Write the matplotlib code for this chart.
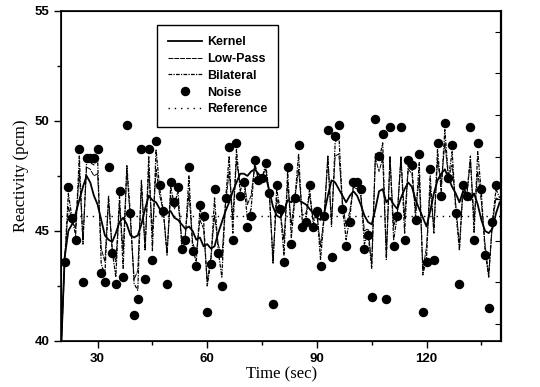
import numpy as np
import matplotlib
matplotlib.use("Agg")
import matplotlib.pyplot as plt
from matplotlib.ticker import MultipleLocator, FixedLocator

# ---------------------------------------------------------------------------
# Data
# ---------------------------------------------------------------------------
time_noise = np.arange(21, 140)          # one sample per second
time_line = np.arange(20, 141)

noise = [43.6, 47.0, 45.6, 44.6, 48.7, 42.7, 48.3, 48.3, 48.3, 48.7,
         43.1, 42.7, 47.9, 44.0, 42.6, 46.8, 42.9, 49.8, 45.8, 41.2,
         41.9, 48.7, 42.8, 48.7, 43.7, 49.1, 47.1, 45.9, 42.6, 47.2,
         46.3, 47.0, 44.2, 44.6, 47.9, 44.1, 43.4, 46.2, 45.7, 41.3,
         43.5, 46.9, 44.0, 42.5, 46.5, 48.8, 44.6, 49.0, 46.6, 47.2,
         45.2, 45.7, 48.2, 47.3, 47.4, 48.1, 46.7, 41.7, 47.1, 46.0,
         43.6, 47.9, 44.4, 46.5, 48.9, 45.2, 45.4, 47.1, 45.2, 45.9,
         43.4, 45.7, 49.6, 43.8, 49.3, 49.8, 46.0, 44.3, 45.4, 47.2,
         47.2, 46.9, 44.2, 44.8, 42.0, 50.1, 48.4, 49.4, 41.9, 49.7,
         44.3, 45.7, 49.7, 44.6, 48.2, 48.0, 45.5, 48.5, 41.3, 43.6,
         47.8, 43.7, 49.0, 46.6, 49.9, 47.4, 48.9, 45.8, 42.6, 47.1,
         46.6, 49.7, 44.6, 49.0, 46.9, 43.9, 41.5, 45.4, 47.1]

kernel = [39.5,
          43.8, 45.0, 45.3, 45.8, 46.4, 47.0, 47.5, 47.2, 46.6, 46.2,
          45.5, 44.8, 44.6, 44.5, 44.9, 45.4, 45.6, 45.3, 44.8, 44.7,
          44.8, 45.3, 46.0, 46.6, 46.4, 46.3, 46.0, 45.9, 45.8, 45.9,
          45.6, 45.5, 45.3, 45.1, 45.2, 45.0, 44.6, 44.7, 44.3, 44.4,
          44.2, 44.3, 44.9, 45.4, 45.9, 46.3, 46.8, 47.2, 47.6, 47.6,
          47.5, 47.7, 47.8, 47.6, 47.4, 47.5, 46.8, 46.1, 45.7, 45.6,
          45.9, 46.4, 46.3, 46.5, 46.4, 46.3, 46.2, 46.0, 45.8, 45.6,
          45.5, 45.8, 46.6, 47.3, 47.2, 46.9, 46.6, 46.3, 46.6, 46.8,
          46.6, 46.2, 45.7, 45.4, 45.3, 46.0, 46.8, 46.9, 46.3, 46.5,
          46.2, 46.0, 46.5, 46.9, 47.2, 47.0, 46.4, 46.0, 45.6, 45.2,
          45.9, 46.7, 47.3, 47.6, 47.8, 47.4, 47.0, 46.7, 46.3, 46.8,
          46.6, 46.4, 46.7, 46.2, 45.5, 45.0, 44.9, 45.1, 45.8, 46.3]

lowpass = [39.5,
           43.7, 46.1, 45.5, 45.1, 47.7, 44.6, 47.9, 47.8, 47.5, 47.6,
           44.2, 43.6, 46.4, 44.2, 43.6, 46.2, 44.1, 47.8, 45.4, 42.8,
           43.2, 47.2, 44.2, 47.8, 44.9, 47.8, 46.6, 45.9, 44.0, 46.6,
           46.0, 46.3, 44.7, 44.8, 46.7, 44.5, 43.9, 45.5, 45.1, 42.7,
           43.8, 45.7, 44.4, 43.8, 46.2, 47.7, 45.6, 48.2, 47.1, 47.4,
           46.2, 46.6, 48.0, 47.4, 47.4, 47.8, 46.7, 43.7, 46.5, 45.8,
           44.6, 47.2, 45.3, 46.5, 47.8, 45.7, 45.8, 46.6, 45.5, 45.8,
           44.3, 45.7, 48.3, 45.4, 48.4, 48.5, 46.3, 45.2, 45.9, 47.0,
           46.9, 46.6, 45.0, 45.1, 43.5, 48.3, 47.7, 48.3, 43.9, 48.3,
           45.2, 45.8, 48.3, 45.6, 47.8, 47.6, 45.9, 47.4, 43.2, 44.3,
           46.9, 45.1, 48.2, 47.1, 49.0, 47.4, 48.0, 46.2, 44.3, 47.0,
           46.6, 48.2, 45.5, 47.7, 46.3, 44.4, 43.0, 45.3, 46.5, 46.4]

bilateral = [39.5,
             43.6, 46.7, 45.6, 44.8, 48.4, 44.4, 48.2, 48.1, 48.0, 48.3,
             43.5, 43.0, 46.6, 44.1, 42.9, 46.6, 43.3, 48.0, 45.7, 42.6,
             42.3, 47.3, 44.1, 48.4, 44.1, 48.7, 46.9, 45.9, 43.9, 47.0,
             46.2, 46.8, 44.4, 44.7, 47.5, 44.2, 43.6, 46.0, 45.5, 42.5,
             43.6, 46.5, 44.1, 42.9, 46.4, 48.4, 44.9, 48.7, 46.8, 47.3,
             45.5, 46.0, 48.1, 47.3, 47.4, 48.0, 46.7, 43.5, 46.9, 45.9,
             43.9, 47.7, 44.7, 46.5, 48.5, 45.4, 45.5, 46.9, 45.3, 45.9,
             43.7, 45.7, 48.4, 45.2, 49.0, 49.4, 46.1, 44.6, 45.6, 47.1,
             47.1, 46.8, 44.4, 44.9, 43.3, 48.5, 48.2, 49.0, 43.7, 48.4,
             44.6, 45.7, 48.4, 44.9, 48.1, 47.9, 45.6, 48.1, 43.0, 43.8,
             47.5, 44.9, 48.7, 46.8, 49.6, 47.4, 48.6, 45.9, 44.1, 47.1,
             46.6, 48.4, 44.9, 48.6, 46.7, 44.1, 42.9, 45.4, 46.9, 46.5]

reference_level = 45.7
x_limits = (20, 140.4)
y_limits = (40, 55)
right_ticks = [40.76, 42.66, 44.56, 46.46, 48.36, 50.26, 52.16, 54.06]

# ---------------------------------------------------------------------------
# Plot
# ---------------------------------------------------------------------------
fig = plt.figure(figsize=(5.4, 3.87), dpi=100, facecolor="white")
ax = fig.add_axes([0.113, 0.119, 0.815, 0.853])

ax.plot(time_line, kernel, color="black", lw=1.3, ls="-", label="Kernel")
ax.plot(time_line, lowpass, color="black", lw=0.7, ls=(0, (5, 1)),
        label="Low-Pass")
ax.plot(time_line, bilateral, color="black", lw=0.9, ls=(0, (3, 1, 1, 1)),
        label="Bilateral")
ax.plot(time_noise, noise, ls="none", marker="o", ms=5.8, color="black",
        label="Noise")
ax.axhline(reference_level, color="black", lw=1.0, ls=(0, (1, 3.5)),
           label="Reference")

ax.set_xlim(*x_limits)
ax.set_ylim(*y_limits)

ax.xaxis.set_major_locator(FixedLocator([30, 60, 90, 120]))
ax.xaxis.set_minor_locator(FixedLocator([45, 75, 105, 135]))
ax.yaxis.set_major_locator(MultipleLocator(5))
ax.yaxis.set_minor_locator(MultipleLocator(2.5))
ax.tick_params(which="both", direction="out", top=False, right=False,
               width=1.0)
ax.tick_params(which="major", length=5)
ax.tick_params(which="minor", length=3)
for lab in ax.get_xticklabels() + ax.get_yticklabels():
    lab.set_family("Liberation Sans")
    lab.set_fontweight("bold")
    lab.set_fontsize(9.5)

# inward ticks on the right spine
ax_r = ax.twinx()
ax_r.set_ylim(*y_limits)
ax_r.yaxis.set_major_locator(FixedLocator(right_ticks))
ax_r.tick_params(direction="in", length=4, labelright=False)

for sp in ax.spines.values():
    sp.set_linewidth(1.2)
ax_r.spines["right"].set_linewidth(1.6)

ax.set_xlabel("Time (sec)", family="Liberation Serif", fontsize=12, labelpad=1)
ax.set_ylabel("Reactivity (pcm)", family="Liberation Serif", fontsize=12,
              labelpad=4)

leg = ax.legend(loc="upper left", bbox_to_anchor=(0.218, 0.957),
                fancybox=False, shadow=False, framealpha=1, edgecolor="black",
                handlelength=2.7, labelspacing=0.38, handletextpad=0.4,
                borderpad=0.9, borderaxespad=0,
                prop={"family": "Liberation Sans", "weight": "bold",
                      "size": 9})
leg.get_frame().set_linewidth(1.0)

fig.savefig("out.png", dpi=100, facecolor="white")
